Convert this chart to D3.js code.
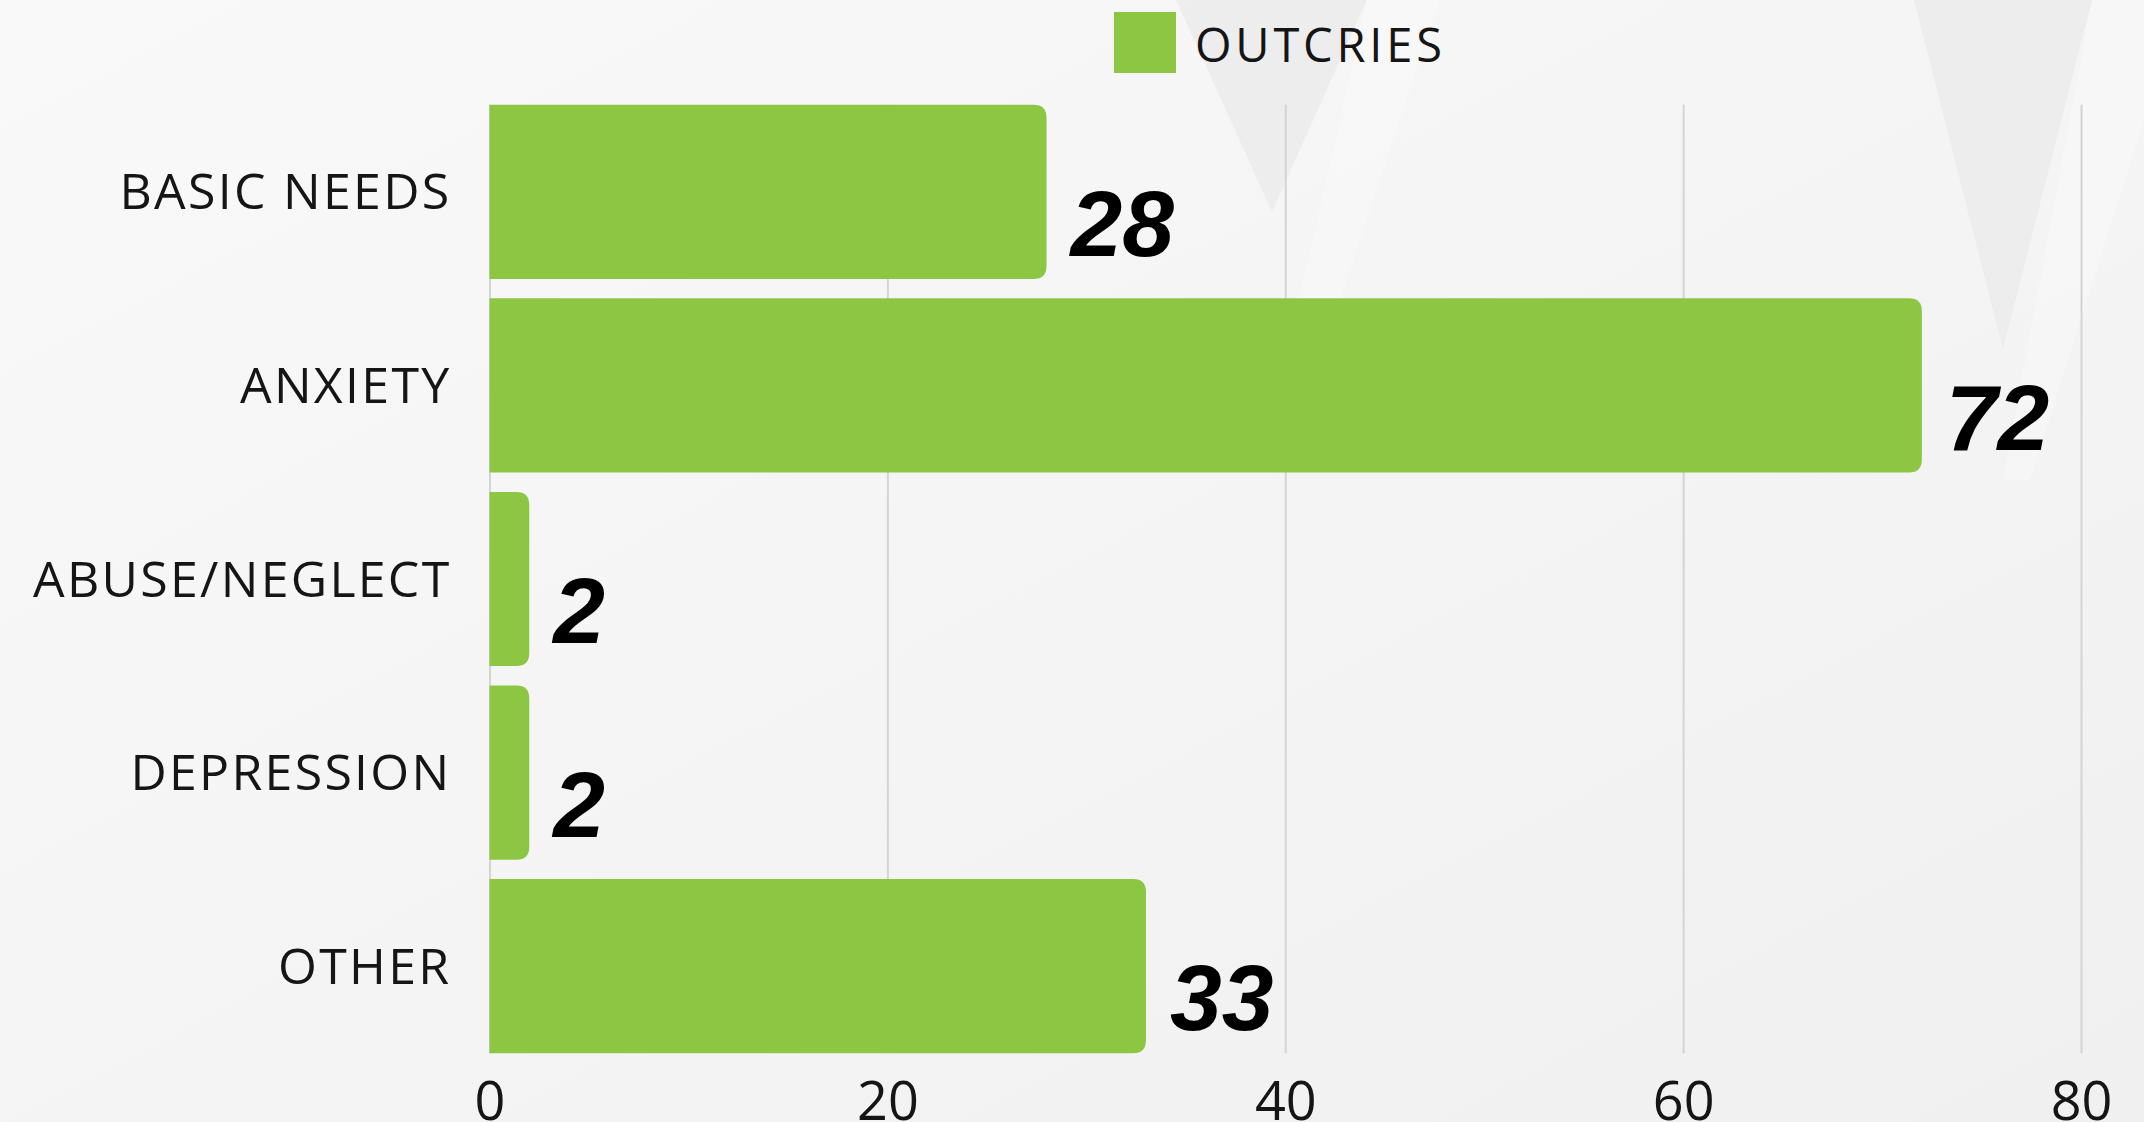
<!DOCTYPE html>
<html>
<head>
<meta charset="utf-8">
<script src="https://cdn.jsdelivr.net/npm/d3@7"></script>
<style>
  html, body { margin: 0; padding: 0; background: #f6f6f6; }
  svg { display: block; }
</style>
</head>
<body>
<svg id="chart" width="2144" height="1122"></svg>
<script>
const categories = ["BASIC NEEDS", "ANXIETY", "ABUSE/NEGLECT", "DEPRESSION", "OTHER"];
const values = [28, 72, 2, 2, 33];
const seriesName = "OUTCRIES";
const tickValues = [0, 20, 40, 60, 80];

const W = 2144, H = 1122;
const svg = d3.select("#chart");

// background
const defs = svg.append("defs");
const bg = defs.append("linearGradient").attr("id", "bg").attr("x1", 0).attr("y1", 0).attr("x2", 1).attr("y2", 1);
bg.append("stop").attr("offset", "0%").attr("stop-color", "#f9f9f9");
bg.append("stop").attr("offset", "100%").attr("stop-color", "#f0f0f0");
svg.append("rect").attr("width", W).attr("height", H).attr("fill", "url(#bg)");
const deco = svg.append("g");
deco.append("polygon").attr("points", "1176,0 1367,0 1272,212").attr("fill", "#e9e9e9").attr("opacity", 0.7);
deco.append("polygon").attr("points", "1914,0 2092,0 2003,349").attr("fill", "#e9e9e9").attr("opacity", 0.7);
deco.append("polygon").attr("points", "1367,0 1440,0 1300,420 1272,420").attr("fill", "#fcfcfc").attr("opacity", 0.35);
deco.append("polygon").attr("points", "2092,0 2144,0 2144,120 2030,480 2003,480").attr("fill", "#fcfcfc").attr("opacity", 0.35);

const x = d3.scaleLinear().domain([0, 80]).range([489.5, 2081]);
const y = d3.scaleBand().domain(categories).range([95, 1063]).paddingInner(0.1).paddingOuter(0.05);

// gridlines
const gridTop = y(categories[0]);
const gridBottom = y(categories[categories.length - 1]) + y.bandwidth();
svg.append("g")
  .attr("transform", `translate(0,${gridBottom})`)
  .call(d3.axisBottom(x).tickValues(tickValues).tickSize(-(gridBottom - gridTop)).tickFormat(""))
  .call(g => g.select(".domain").remove())
  .call(g => g.selectAll(".tick line").attr("stroke", "#d4d4d4").attr("stroke-width", 2));

// bars with rounded right corners
const r = 13;
function barPath(x0, y0, w, h) {
  const rr = Math.min(r, w / 2, h / 2);
  return `M${x0},${y0} H${x0 + w - rr} Q${x0 + w},${y0} ${x0 + w},${y0 + rr} V${y0 + h - rr} Q${x0 + w},${y0 + h} ${x0 + w - rr},${y0 + h} H${x0} Z`;
}
const data = categories.map((c, i) => ({ c, v: values[i] }));
svg.append("g").selectAll("path").data(data).join("path")
  .attr("d", d => barPath(x(0), y(d.c), x(d.v) - x(0), y.bandwidth()))
  .attr("fill", "#8dc642");

// value labels
svg.append("g").selectAll("text").data(data).join("text")
  .attr("x", d => x(d.v) + 24)
  .attr("y", d => y(d.c) + y.bandwidth() - 23)
  .attr("font-family", "'Liberation Sans', Arial, sans-serif")
  .attr("font-weight", 900)
  .attr("font-style", "italic")
  .attr("font-size", 93)
  .attr("fill", "#000")
  .text(d => d.v);

// category axis
const yAxis = svg.append("g")
  .attr("transform", `translate(${x(0) - 38},0)`)
  .call(d3.axisLeft(y).tickSize(0).tickPadding(0))
  .call(g => g.select(".domain").remove());
yAxis.selectAll("text")
  .attr("font-family", "'Open Sans', sans-serif")
  .attr("font-size", 50)
  .attr("letter-spacing", 2.3)
  .attr("fill", "#151515")
  .attr("dy", "0.35em");

// x axis labels
const xAxis = svg.append("g")
  .attr("transform", `translate(0,${gridBottom})`)
  .call(d3.axisBottom(x).tickValues(tickValues).tickSize(0).tickPadding(0))
  .call(g => g.select(".domain").remove());
xAxis.selectAll("text")
  .attr("font-family", "'Open Sans', sans-serif")
  .attr("font-size", 54)
  .attr("fill", "#151515")
  .attr("dy", 0)
  .attr("y", 1120 - gridBottom);

// legend
const legend = svg.append("g").attr("transform", "translate(1114,12)");
legend.append("rect").attr("width", 62).attr("height", 61).attr("fill", "#8dc642");
legend.append("text").attr("x", 81).attr("y", 50)
  .attr("font-family", "'Open Sans', sans-serif")
  .attr("font-size", 47)
  .attr("letter-spacing", 3.8)
  .attr("fill", "#151515")
  .text(seriesName);
</script>
</body>
</html>
